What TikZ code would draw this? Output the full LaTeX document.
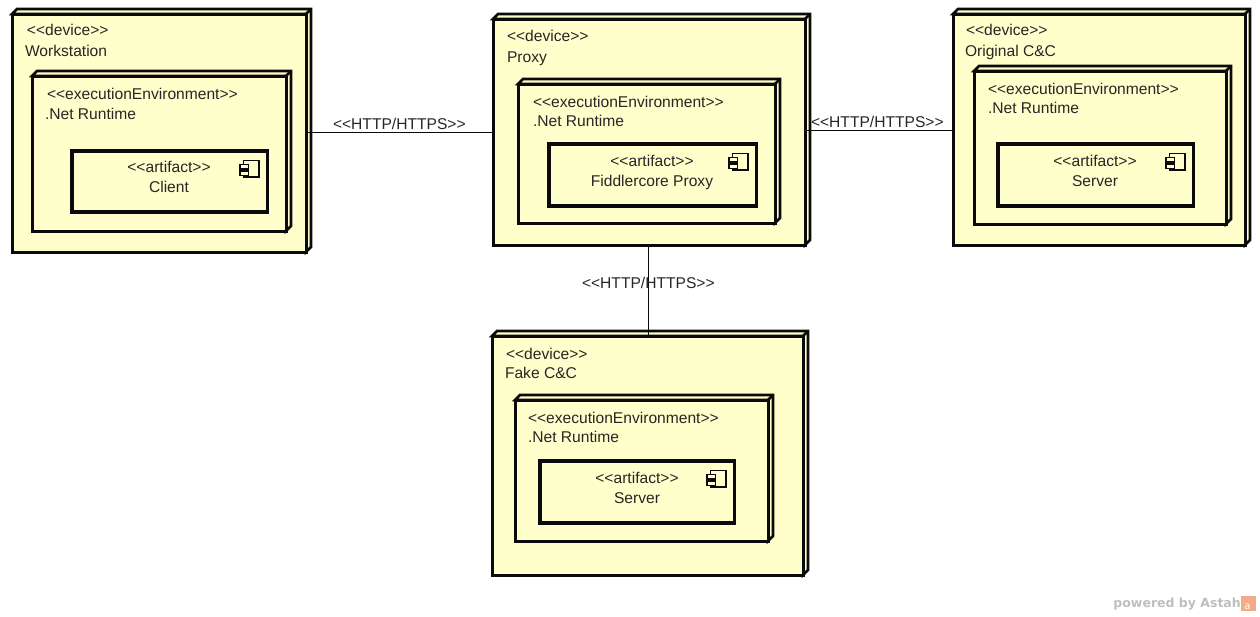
\documentclass[tikz,border=0pt]{standalone}
\usepackage{fontspec}
\setmainfont{Liberation Sans}
\newfontfamily\wmfont{DejaVu Sans}
\definecolor{umlfill}{RGB}{255,255,204}
\definecolor{umlline}{RGB}{10,10,10}
\definecolor{wmgray}{RGB}{190,190,190}
\definecolor{wmorange}{RGB}{245,170,135}
\newcommand{\stereo}[1]{<{}<#1>{}>}
\tikzset{
  x=1pt,y=-1pt,
  boxshape/.style={draw=umlline,fill=umlfill,line width=3pt,line join=miter,outer sep=0pt,inner sep=0pt},
  artifactbox/.style={draw=umlline,fill=umlfill,line width=3.4pt,outer sep=0pt,inner sep=0pt},
  sidefaces/.style={draw=umlline,fill=umlfill,line width=2.6pt,line join=miter},
  iconline/.style={draw=umlline,fill=umlfill,line width=1.1pt},
  conn/.style={draw=umlline,line width=1pt},
  txt/.style={font=\fontsize{15.6}{17}\selectfont,text=black!85,inner sep=0pt,outer sep=0pt},
  ltxt/.style={txt,anchor=base west},
  ctxt/.style={txt,anchor=base},
}
% name, x1, y1, x2, y2, depth
\newcommand{\nodebox}[6]{%
  \path[sidefaces] (#2,#3) -- ++(#6,-#6) -- (#4+#6,#3-#6) -- (#4+#6,#5-#6) -- (#4,#5) -- (#4,#3) -- cycle;
  \draw[sidefaces] (#4,#3) -- ++(#6,-#6);
  \node[boxshape,minimum width=#4-#2,minimum height=#5-#3,anchor=north west] (#1) at (#2,#3) {};
}
% name, x1, y1, x2, y2
\newcommand{\artbox}[5]{%
  \node[artifactbox,minimum width=#4-#2,minimum height=#5-#3,anchor=north west] (#1) at (#2,#3) {};
  \draw[iconline] (#4-24,#3+9.5) -- (#4-8.5,#3+9.5) -- (#4-8.5,#3+26) -- (#4-24,#3+26) -- cycle;
  \draw[iconline] (#4-27.5,#3+13.5) rectangle (#4-19,#3+18);
  \draw[iconline] (#4-27.5,#3+20) rectangle (#4-19,#3+24.5);
}
\begin{document}
\begin{tikzpicture}
\useasboundingbox (0,0) rectangle (1260,616);
% Workstation
\nodebox{ws}{12}{14}{306}{252}{5}
\nodebox{wsenv}{32}{76}{286}{231}{5}
\artbox{wsart}{72}{151}{267.5}{212}
\node[ltxt] (wsa) at (27,35) {\stereo{device}};
\node[ltxt] (wsb) at (25,56.5) {Workstation};
\node[ltxt] (wsc) at (47,99) {\stereo{executionEnvironment}};
\node[ltxt] (wsd) at (45,119) {.Net Runtime};
\node[ctxt] (wse) at (169,172.5) {\stereo{artifact}};
\node[ctxt] (wsf) at (169,192.5) {Client};
% Proxy
\nodebox{px}{493}{19}{805}{245}{5}
\nodebox{pxenv}{518}{84}{775}{223}{5}
\artbox{pxart}{549}{144}{756.5}{206}
\node[ltxt] (pxa) at (507,41) {\stereo{device}};
\node[ltxt] (pxb) at (507,62) {Proxy};
\node[ltxt] (pxc) at (533,107) {\stereo{executionEnvironment}};
\node[ltxt] (pxd) at (533,126.5) {.Net Runtime};
\node[ctxt] (pxe) at (652,166.5) {\stereo{artifact}};
\node[ctxt] (pxf) at (652,186.5) {Fiddlercore Proxy};
% Original C&C
\nodebox{oc}{953}{14}{1245}{245}{5}
\nodebox{ocenv}{974}{71}{1226}{224}{5}
\artbox{ocart}{998}{144}{1193.5}{206}
\node[ltxt] (oca) at (966,35.5) {\stereo{device}};
\node[ltxt] (ocb) at (965,56.5) {Original C\&C};
\node[ltxt] (occ) at (988,94) {\stereo{executionEnvironment}};
\node[ltxt] (ocd) at (988,113.5) {.Net Runtime};
\node[ctxt] (oce) at (1095,166.5) {\stereo{artifact}};
\node[ctxt] (ocf) at (1095,186.5) {Server};
% Fake C&C
\nodebox{fc}{492}{336}{803}{575}{5}
\nodebox{fcenv}{515}{400}{768}{541}{5}
\artbox{fcart}{540}{461}{734.5}{523}
\node[ltxt] (fca) at (506,359.5) {\stereo{device}};
\node[ltxt] (fcb) at (505,378.5) {Fake C\&C};
\node[ltxt] (fcc) at (528,423.5) {\stereo{executionEnvironment}};
\node[ltxt] (fcd) at (528,442.5) {.Net Runtime};
\node[ctxt] (fce) at (637,483.5) {\stereo{artifact}};
\node[ctxt] (fcf) at (637,503.5) {Server};
% Connectors
\draw[conn] (ws.east |- 0,132) -- (px.west |- 0,132);
\draw[conn] (px.east |- 0,130.5) -- (oc.west |- 0,130.5);
\draw[conn] (px.south -| 648,0) -- (fc.north -| 648,0);
\node[ltxt] (l1) at (333,129) {\stereo{HTTP/HTTPS}};
\node[ltxt] (l2) at (811,127) {\stereo{HTTP/HTTPS}};
\node[ltxt] (l3) at (582,288.5) {\stereo{HTTP/HTTPS}};
% Watermark
\node[anchor=base east,inner sep=0pt,text=wmgray,font=\wmfont\fontsize{12.5}{14}\selectfont\bfseries] (wm) at (1241,607.5) {powered by Astah};
\node[fill=wmorange,minimum size=15pt,inner sep=0pt,outer sep=0pt,anchor=north west] (wmicon) at (1240.5,596) {};
\node[anchor=base,inner sep=0pt,text=white,font=\wmfont\fontsize{10}{10}\selectfont] (wma) at (1247.5,609.5) {a};
\end{tikzpicture}
\end{document}
